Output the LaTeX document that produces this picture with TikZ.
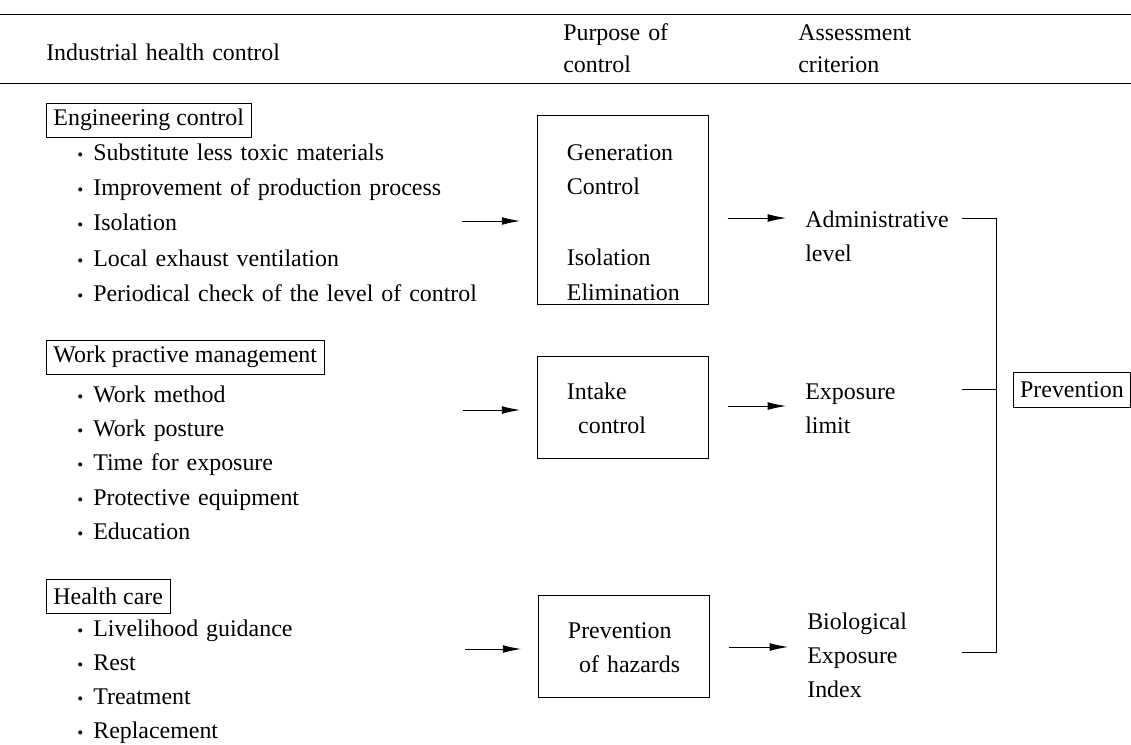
\documentclass[tikz,border=0pt]{standalone}
\usepackage{fontspec}
\setmainfont{Liberation Serif}
\usepackage{tikz}
\usetikzlibrary{arrows.meta, positioning}
\newcommand{\itm}{\makebox[11.4pt][l]{\fontsize{12}{12}\selectfont\textbullet}}

\begin{document}
\begin{tikzpicture}[
  x=0.025cm, y=-0.025cm,
  every node/.style={font=\fontsize{17}{24.5}\selectfont, inner sep=0pt},
  head/.style={anchor=base west, align=left, text width=180pt, font=\fontsize{17}{23}\selectfont},
  group/.style={draw, anchor=west, inner xsep=5pt, minimum height=24.2pt, line width=0.6pt},
  items/.style={anchor=base west, align=left, text width=320pt},
  purpose/.style={
    draw, anchor=north west, align=left, line width=0.6pt,
    text width=79.6pt, inner xsep=21pt, inner ysep=0pt
  },
  crit/.style={anchor=base west, align=left, text width=120pt},
  arrow/.style={-{Latex[length=13pt, width=5.5pt]}, line width=0.6pt},
  line/.style={line width=0.6pt}
]
\useasboundingbox (0,0) rectangle (1131,744);

  % Kopfzeile
\draw[line] (0,14) -- (1131,14);
\draw[line] (0,83) -- (1131,83);
\node[head] (ihc) at (46,60) {Industrial health control};
\node[head] (purp) at (563,40) {Purpose of\\control};
\node[head] (asse) at (798,40) {Assessment\\criterion};

  % Massnahmen (linke Spalte)
\node[group] (eng) at (46,120) {Engineering control};
\node[items, font=\fontsize{17}{25.2}\selectfont] (englist) at (77,160) {\itm Substitute less toxic materials\\
  \itm Improvement of production process\\ \itm Isolation\\
  \itm Local exhaust ventilation\\ \itm Periodical check of the level of control};
\node[group] (work) at (46,357) {Work practive management};
\node[items] (worklist) at (77,402) {\itm Work method\\ \itm Work posture\\
  \itm Time for exposure\\ \itm Protective equipment\\ \itm Education};
\node[group] (care) at (46,596) {Health care};
\node[items, font=\fontsize{17}{24.2}\selectfont] (carelist) at (77,636) {\itm Livelihood guidance\\ \itm Rest\\
  \itm Treatment\\ \itm Replacement};

  % Zweck der Kontrolle
\node[purpose, text height=32pt, text depth=102.4pt] (gen) at (537,115) {Generation\\Control\\[26pt]Isolation\\Elimination};
\node[purpose, text height=30.6pt, text depth=42pt] (intake) at (537,356) {Intake\\\hspace*{8pt}control};
\node[purpose, text height=30.6pt, text depth=42pt] (hazard) at (538,595) {Prevention\\\hspace*{8pt}\mbox{of hazards}};

  % Bewertungskriterien
\node[crit] (admin) at (805,227) {Administrative\\level};
\node[crit] (expo) at (805,399) {Exposure\\limit};
\node[crit] (bei) at (807,629) {Biological\\Exposure\\Index};
\node[draw, line width=0.6pt, minimum width=83.2pt, minimum height=24.9pt, anchor=west] (prev) at (1013,389.5) {Prevention};

  % Pfeile
\coordinate (feed1) at (462,221);
\coordinate (feed2) at (463,410);
\coordinate (feed3) at (465,649);
\draw[arrow, shorten >=12pt] (feed1) -- (gen.west |- feed1);
\draw[arrow, shorten >=12pt] (feed2) -- (intake.west |- feed2);
\draw[arrow, shorten >=12pt] (feed3) -- (hazard.west |- feed3);

\coordinate (admin in) at ([yshift=6.4pt]admin.base west);
\coordinate (expo in) at ([yshift=-5pt]expo.base west);
\coordinate (bei in) at ([yshift=-12.8pt]bei.base west);
\draw[arrow, shorten <=13.5pt, shorten >=13.5pt] (gen.east |- admin in) -- (admin in);
\draw[arrow, shorten <=13.5pt, shorten >=13.5pt] (intake.east |- expo in) -- (expo in);
\draw[arrow, shorten <=13.5pt, shorten >=13.5pt] (hazard.east |- bei in) -- (bei in);

  % Klammer
\coordinate (bt) at (962,218);
\coordinate (bm) at (962,389);
\coordinate (bb) at (962,652);
\coordinate (jt) at (996,218);
\coordinate (jb) at (996,652);
\draw[line] (bt) -- (jt) -- (jb) -- (bb);
\draw[line] (bm) -- (bm -| jt);

\end{tikzpicture}
\end{document}
